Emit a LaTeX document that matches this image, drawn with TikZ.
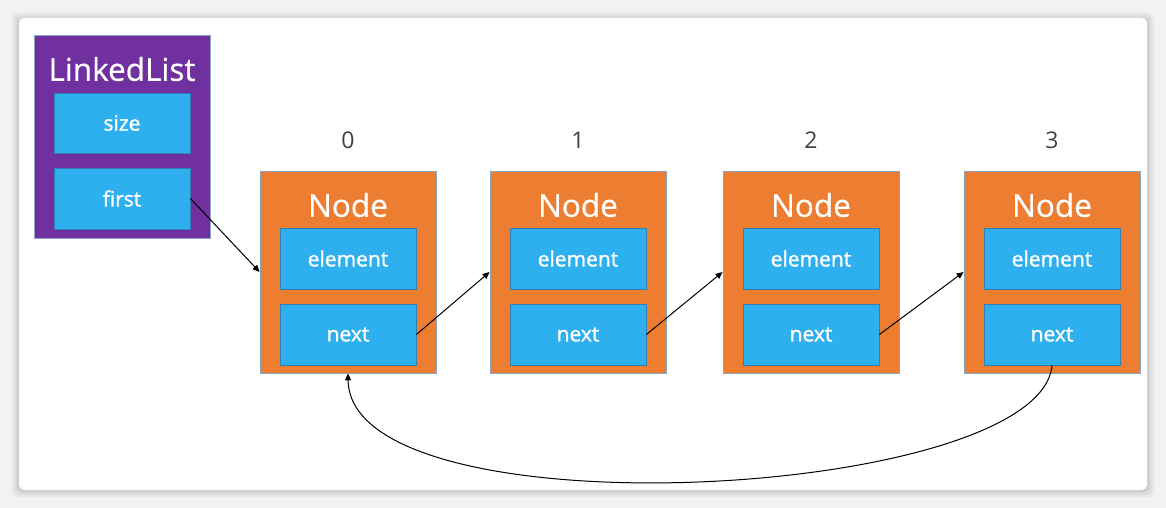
\documentclass[tikz,border=0pt]{standalone}
\usepackage{fontspec}
\setmainfont{Open Sans}
\newfontfamily\fieldfont[FakeBold=1.3]{Open Sans}
\newfontfamily\titlefont[FakeBold=0.6]{Open Sans}
\usetikzlibrary{arrows.meta}
\definecolor{bgout}{HTML}{F2F2F2}
\definecolor{llpurple}{HTML}{7030A0}
\definecolor{ndorange}{HTML}{ED7D31}
\definecolor{fldblue}{HTML}{2EB0EE}
\definecolor{fldedge}{HTML}{2F7EB5}
\definecolor{boxedge}{HTML}{8DA3C2}
\definecolor{idxgray}{HTML}{404040}
\tikzset{
  outerbox/.style={draw=boxedge, line width=0.8pt, minimum width=176pt, minimum height=202pt, inner sep=0pt},
  fieldbox/.style={draw=fldedge, fill=fldblue, line width=0.8pt, minimum width=136pt, minimum height=60pt, inner sep=0pt, text=white, font=\fieldfont\fontsize{21}{21}\selectfont},
  titletxt/.style={text=white, font=\titlefont\fontsize{31.5}{31.5}\selectfont, inner sep=0pt},
  idxtxt/.style={text=idxgray, font=\fontsize{23}{23}\selectfont, inner sep=0pt},
  link/.style={-{Triangle[length=7pt,width=6pt]}, line width=1pt, black}
}
\begin{document}
\begin{tikzpicture}[x=1pt,y=-1pt]
\useasboundingbox (0,0) rectangle (1166,508);
\fill[bgout] (0,0) rectangle (1166,508);
\foreach \o/\c in {7/96,5/92,3/88,1.5/84}{
  \fill[bgout!\c!black, rounded corners=6pt] (19-\o,18-\o+2) rectangle (1147+\o,490+\o);
}
\fill[white, rounded corners=5pt] (19,18) rectangle (1147,490);
% LinkedList
\node[outerbox, fill=llpurple, minimum height=203pt] (ll) at (122,136.5) {};
\node[titletxt] (llt) at (122,69) {LinkedList};
\node[fieldbox, minimum height=60pt] (size) at (122,123) {size};
\node[fieldbox, minimum height=61pt] (first) at (122,198.5) {first};
% Nodes
\foreach \i/\x/\ylab in {0/348/0,1/578/1,2/811/2,3/1052/3}{
  \node[outerbox, fill=ndorange] (n\i) at (\x,272) {};
  \node[titletxt] (t\i) at (\x,205) {Node};
  \node[fieldbox, minimum height=61pt] (e\i) at (\x,258.5) {element};
  \node[fieldbox, minimum height=61pt] (x\i) at (\x,334.5) {next};
  \node[idxtxt] (l\i) at (\x,140) {\ylab};
}
% connectors
\draw[link] (first.east) -- (n0.west);
\draw[link] (x0.east) -- (n1.west);
\draw[link] (x1.east) -- (n2.west);
\draw[link] (x2.east) -- (n3.west);
\draw[link] (x3.south) .. controls (1040,500) and (350,537) .. (n0.south);
\end{tikzpicture}
\end{document}
